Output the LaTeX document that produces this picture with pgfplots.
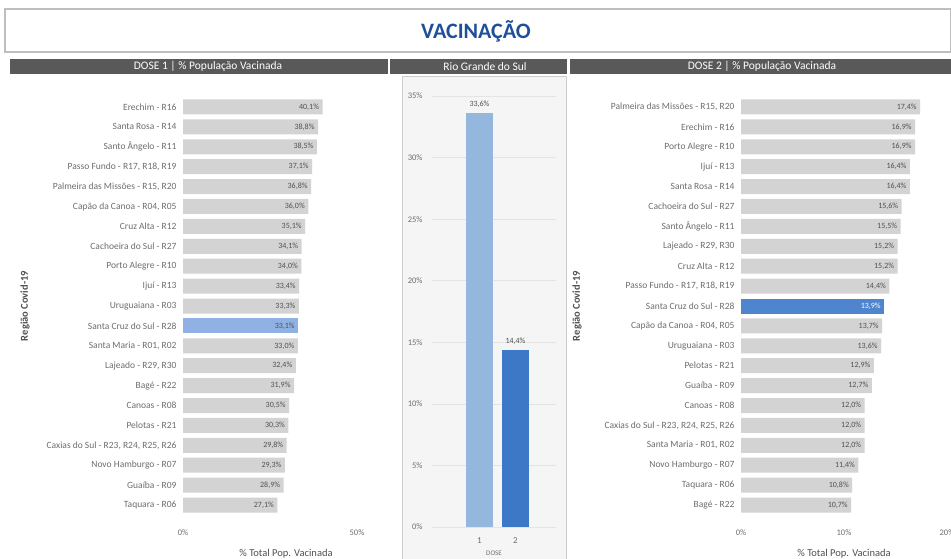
\documentclass[border=0pt]{standalone}
\usepackage{pgfplots}
\pgfplotsset{compat=1.18}
\usepackage{fontspec}
\setmainfont{Carlito}
\definecolor{bargray}{RGB}{211,211,211}
\definecolor{hlleft}{RGB}{143,177,227}
\definecolor{hlright}{RGB}{79,133,207}
\definecolor{dose1}{RGB}{148,184,221}
\definecolor{dose2}{RGB}{61,120,198}
\definecolor{headgray}{RGB}{89,89,89}
\definecolor{titleblue}{RGB}{31,79,154}
\definecolor{labgray}{RGB}{110,110,110}
\definecolor{valgray}{RGB}{80,80,80}
\definecolor{boxgray}{RGB}{190,190,190}
\definecolor{panelbg}{RGB}{245,245,245}
\definecolor{panelborder}{RGB}{205,205,205}
\definecolor{gridgray}{RGB}{228,228,228}

\pgfplotstableread{
y v
0 40.1
1 38.8
2 38.5
3 37.1
4 36.8
5 36.0
6 35.1
7 34.1
8 34.0
9 33.4
10 33.3
12 33.0
13 32.4
14 31.9
15 30.5
16 30.3
17 29.8
18 29.3
19 28.9
20 27.1
}\doseA
\pgfplotstableread{
y v
11 33.1
}\doseAhl
\pgfplotstableread{
y v
0 17.4
1 16.9
2 16.9
3 16.4
4 16.4
5 15.6
6 15.5
7 15.2
8 15.2
9 14.4
11 13.7
12 13.6
13 12.9
14 12.7
15 12.0
16 12.0
17 12.0
18 11.4
19 10.8
20 10.7
}\doseB
\pgfplotstableread{
y v
10 13.9
}\doseBhl

\pgfplotsset{
  barpanel/.style={
    scale only axis, xbar, y dir=reverse,
    ymin=-0.5, ymax=20.5, ytick={0,...,20},
    axis line style={draw=none}, major tick length=0pt,
    yticklabel style={font=\fontsize{9.5}{10}\selectfont, text=labgray, xshift=-3pt},
    xticklabel style={font=\fontsize{8.5}{9}\selectfont, text=labgray, yshift=-11pt},
    xlabel={\% Total Pop. Vacinada},
    xlabel style={font=\fontsize{10.5}{11}\selectfont, text=valgray, yshift=-7pt},
    bar width=15pt,
    clip=false,
    nodes near coords={\pgfmathprintnumber[fixed,fixed zerofill,precision=1,use comma,assume math mode=true]{\pgfplotspointmeta}\%},
    every node near coord/.append style={anchor=east, font=\fontsize{8}{8}\selectfont, text=valgray},
  }
}

\begin{document}
\begin{tikzpicture}
\useasboundingbox (0pt,0pt) rectangle (951pt,-559pt);
\fill[white] (0pt,0pt) rectangle (951pt,-559pt);
% title box
\draw[boxgray, line width=1.2pt, fill=white] (5pt,-9pt) rectangle (950.4pt,-52pt);
\node[font=\fontsize{22}{22}\selectfont\bfseries, text=titleblue] at (476pt,-31pt) {VACINAÇÃO};
% header bars
\fill[headgray] (10pt,-59pt) rectangle (388pt,-74pt);
\fill[headgray] (390pt,-59pt) rectangle (567pt,-74pt);
\fill[headgray] (570pt,-59pt) rectangle (951pt,-74pt);
\node[font=\fontsize{11.5}{12}\selectfont, text=white] at (208pt,-66.5pt) {DOSE 1 | \% População Vacinada};
\node[font=\fontsize{11.5}{12}\selectfont, text=white] at (485pt,-66.5pt) {Rio Grande do Sul};
\node[font=\fontsize{11.5}{12}\selectfont, text=white] at (762pt,-66.5pt) {DOSE 2 | \% População Vacinada};
% middle panel
\draw[panelborder, fill=panelbg] (402pt,-76pt) rectangle (566pt,-559.5pt);
% y axis titles
\node[rotate=90, font=\fontsize{10.5}{11}\selectfont\bfseries, text=valgray] at (25pt,-306pt) {Região Covid-19};
\node[rotate=90, font=\fontsize{10.5}{11}\selectfont\bfseries, text=valgray] at (577pt,-306pt) {Região Covid-19};

% left chart
\begin{axis}[barpanel,
  at={(183pt,-97pt)}, anchor=north west, width=174pt, height=418pt,
  xmin=0, xmax=50, xtick={0,50}, xticklabels={0\%,50\%},
  xlabel style={xshift=16pt},
  yticklabels={Erechim - R16, Santa Rosa - R14, Santo Ângelo - R11, {Passo Fundo - R17, R18, R19}, {Palmeira das Missões - R15, R20}, {Capão da Canoa - R04, R05}, Cruz Alta - R12, Cachoeira do Sul - R27, Porto Alegre - R10, Ijuí - R13, Uruguaiana - R03, Santa Cruz do Sul - R28, {Santa Maria - R01, R02}, {Lajeado - R29, R30}, Bagé - R22, Canoas - R08, Pelotas - R21, {Caxias do Sul - R23, R24, R25, R26}, Novo Hamburgo - R07, Guaíba - R09, Taquara - R06},
]
\addplot[fill=bargray, draw=none, bar shift=0pt] table[x=v, y=y] {\doseA};
\addplot[fill=hlleft, draw=none, bar shift=0pt] table[x=v, y=y] {\doseAhl};
\end{axis}

% middle chart
\begin{axis}[
  scale only axis, at={(432pt,-96pt)}, anchor=north west, width=124pt, height=431pt,
  ybar, xmin=-0.319, xmax=3.125, ymin=0, ymax=35,
  ytick={0,5,...,35}, yticklabels={0\%,5\%,10\%,15\%,20\%,25\%,30\%,35\%},
  xtick={1,2}, xticklabels={1,2},
  axis line style={draw=none}, major tick length=0pt,
  ymajorgrids, grid style={gridgray, line width=0.5pt},
  yticklabel style={font=\fontsize{8.5}{9}\selectfont, text=labgray, xshift=-6pt},
  xticklabel style={font=\fontsize{9}{9}\selectfont, text=labgray, yshift=-7pt},
  xlabel={DOSE}, xlabel style={font=\fontsize{7}{8}\selectfont, text=labgray, yshift=-1pt},
  bar width=27pt, clip=false,
  nodes near coords={\pgfmathprintnumber[fixed,fixed zerofill,precision=1,use comma,assume math mode=true]{\pgfplotspointmeta}\%},
  every node near coord/.append style={font=\fontsize{8}{8}\selectfont, text=valgray, yshift=2pt},
]
\addplot[fill=dose1, draw=none, bar shift=0pt] coordinates {(1,33.6)};
\addplot[fill=dose2, draw=none, bar shift=0pt] coordinates {(2,14.4)};
\end{axis}

% right chart
\begin{axis}[barpanel,
  at={(741pt,-97pt)}, anchor=north west, width=206pt, height=418pt,
  xmin=0, xmax=20, xtick={0,10,20}, xticklabels={0\%,10\%,20\%},
  yticklabels={{Palmeira das Missões - R15, R20}, Erechim - R16, Porto Alegre - R10, Ijuí - R13, Santa Rosa - R14, Cachoeira do Sul - R27, Santo Ângelo - R11, {Lajeado - R29, R30}, Cruz Alta - R12, {Passo Fundo - R17, R18, R19}, Santa Cruz do Sul - R28, {Capão da Canoa - R04, R05}, Uruguaiana - R03, Pelotas - R21, Guaíba - R09, Canoas - R08, {Caxias do Sul - R23, R24, R25, R26}, {Santa Maria - R01, R02}, Novo Hamburgo - R07, Taquara - R06, Bagé - R22},
]
\addplot[fill=bargray, draw=none, bar shift=0pt] table[x=v, y=y] {\doseB};
\addplot[fill=hlright, draw=none, bar shift=0pt, every node near coord/.append style={text=white}] table[x=v, y=y] {\doseBhl};
\end{axis}
\end{tikzpicture}
\end{document}
